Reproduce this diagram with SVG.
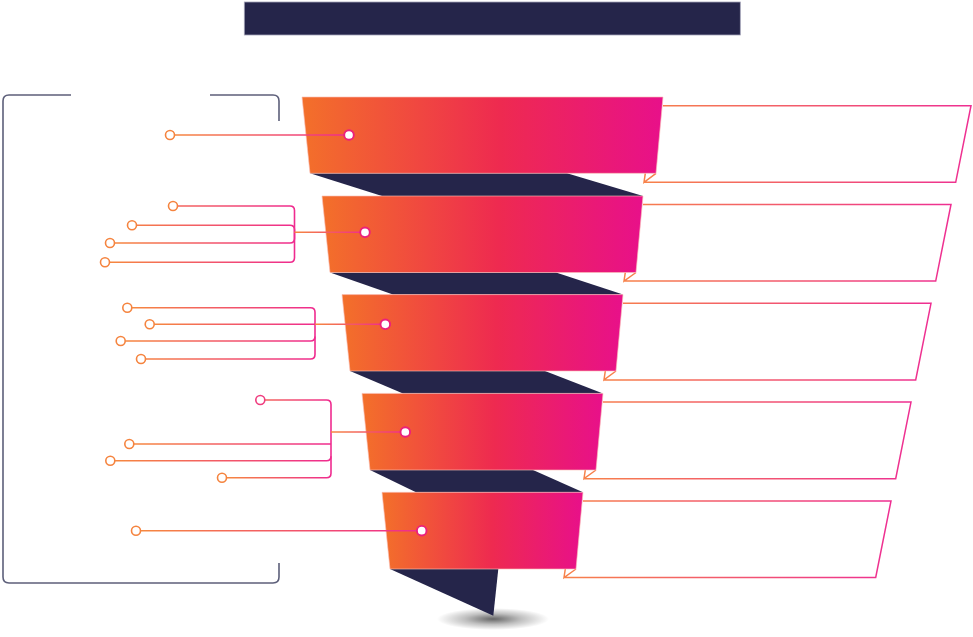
<svg xmlns="http://www.w3.org/2000/svg" width="973" height="637" viewBox="0 0 973 637">
<defs>
<style>
.band{stroke:#fbc0b8;stroke-width:0.9;stroke-opacity:0.7}
.back{fill:#25254a}
.panel{fill:none;stroke:url(#gPanel);stroke-width:1.5;stroke-linejoin:miter}
.wire{fill:none;stroke:url(#gWire);stroke-width:1.6}
.bracket{fill:none;stroke:#5d5f7a;stroke-width:1.6}
.pin{fill:#fff;stroke:#f5843f;stroke-width:1.6}
.dot{fill:#fff;stroke:#ec1f7c;stroke-width:1.9}
</style>
<linearGradient id="gBand" x1="0" y1="0" x2="1" y2="0">
<stop offset="0" stop-color="#f3702a"/>
<stop offset="0.55" stop-color="#ee2a50"/>
<stop offset="1" stop-color="#e8108a"/>
</linearGradient>
<linearGradient id="gPanel" x1="0" y1="0" x2="1" y2="0">
<stop offset="0" stop-color="#f7824a"/>
<stop offset="1" stop-color="#ee2f92"/>
</linearGradient>
<linearGradient id="gWire" x1="0" y1="0" x2="1" y2="0">
<stop offset="0" stop-color="#f6883f"/>
<stop offset="1" stop-color="#ef2b8f"/>
</linearGradient>
<linearGradient id="w1" gradientUnits="userSpaceOnUse" x1="174" y1="0" x2="349" y2="0">
<stop offset="0" stop-color="#f6883f"/><stop offset="1" stop-color="#ef2b8f"/>
</linearGradient>
<linearGradient id="w2" gradientUnits="userSpaceOnUse" x1="294.5" y1="0" x2="365" y2="0">
<stop offset="0" stop-color="#f6883f"/><stop offset="1" stop-color="#ef2b8f"/>
</linearGradient>
<linearGradient id="w3a" gradientUnits="userSpaceOnUse" x1="154" y1="0" x2="315" y2="0">
<stop offset="0" stop-color="#f6883f"/><stop offset="1" stop-color="#ef2b8f"/>
</linearGradient>
<linearGradient id="w3b" gradientUnits="userSpaceOnUse" x1="315" y1="0" x2="385" y2="0">
<stop offset="0" stop-color="#f6883f"/><stop offset="1" stop-color="#ef2b8f"/>
</linearGradient>
<linearGradient id="w4a" gradientUnits="userSpaceOnUse" x1="134" y1="0" x2="331" y2="0">
<stop offset="0" stop-color="#f6883f"/><stop offset="1" stop-color="#ef2b8f"/>
</linearGradient>
<linearGradient id="w4b" gradientUnits="userSpaceOnUse" x1="331" y1="0" x2="405" y2="0">
<stop offset="0" stop-color="#f6883f"/><stop offset="1" stop-color="#ef2b8f"/>
</linearGradient>
<linearGradient id="w5" gradientUnits="userSpaceOnUse" x1="140" y1="0" x2="421" y2="0">
<stop offset="0" stop-color="#f6883f"/><stop offset="1" stop-color="#ef2b8f"/>
</linearGradient>
<radialGradient id="gShadow" cx="0.5" cy="0.5" r="0.5">
<stop offset="0" stop-color="#000" stop-opacity="0.6"/>
<stop offset="0.5" stop-color="#000" stop-opacity="0.25"/>
<stop offset="1" stop-color="#000" stop-opacity="0"/>
</radialGradient>
</defs>

<rect width="973" height="637" fill="#fff"/>

<g id="title">
<rect x="244.3" y="2" width="496" height="33" fill="#25254a" stroke="#a4a4b8" stroke-width="0.8"/>
</g>

<g id="bracket">
<path class="bracket" d="M71,95 H9 Q3,95 3,101 V577 Q3,583 9,583 H273 Q279,583 279,577 V563"/>
<path class="bracket" d="M210,95 H273 Q279,95 279,101 V121"/>
</g>

<g id="panels">
<path class="panel" d="M656,173.3 L644,182.3 L645.3,173.3 M644,182.3 H955.7 L971,105.7 H663"/>
<path class="panel" d="M636,272.5 L624,281.1 L625.3,272.5 M624,281.1 H935.7 L951,204.5 H643"/>
<path class="panel" d="M616,371 L604,379.9 L605.3,371 M604,379.9 H915.7 L931,303.3 H623"/>
<path class="panel" d="M596,470 L584,478.7 L585.3,470 M584,478.7 H895.7 L911,402.1 H603"/>
<path class="panel" d="M576,569 L564,577.5 L565.3,569 M564,577.5 H875.7 L891,500.9 H583"/>
</g>

<g id="funnel-back">
<ellipse cx="493" cy="619" rx="56" ry="11" fill="url(#gShadow)"/>
<polygon class="back" points="310,173.3 567,173.3 643,196 382,196"/>
<polygon class="back" points="330,272.5 556,272.5 623,294.6 393,294.6"/>
<polygon class="back" points="350,371 545,371 603,393.4 403,393.4"/>
<polygon class="back" points="370,470 533,470 583,492.3 416,492.3"/>
<polygon class="back" points="390,569 498.3,569 493.3,615.7"/>
</g>

<g id="stage-1"><polygon class="band" fill="url(#gBand)" points="302,97 663,97 656,173.3 310,173.3"/></g>
<g id="stage-2"><polygon class="band" fill="url(#gBand)" points="322,196 643,196 636,272.5 330,272.5"/></g>
<g id="stage-3"><polygon class="band" fill="url(#gBand)" points="342,294.6 623,294.6 616,371 350,371"/></g>
<g id="stage-4"><polygon class="band" fill="url(#gBand)" points="362,393.4 603,393.4 596,470 370,470"/></g>
<g id="stage-5"><polygon class="band" fill="url(#gBand)" points="382,492.3 583,492.3 576,569 390,569"/></g>

<g id="connectors">
<!-- stage 1 -->
<path d="M174.5,135 H349" fill="none" stroke="url(#w1)" stroke-width="1.6"/>
<circle class="pin" cx="170" cy="135" r="4.5"/>
<circle class="dot" cx="349" cy="135" r="4.8"/>
<!-- stage 2 -->
<path class="wire" d="M177.5,206 H290 Q294.5,206 294.5,210.5 V257.8 Q294.5,262.3 290,262.3 H109.5"/>
<path class="wire" d="M136.5,225.3 H290 Q294.5,225.3 294.5,229.8 V238.5 Q294.5,243 290,243 H114.5"/>
<path d="M294.5,232.3 H365" fill="none" stroke="url(#w2)" stroke-width="1.6"/>
<circle class="pin" cx="173" cy="206" r="4.5"/>
<circle class="pin" cx="132" cy="225.3" r="4.5"/>
<circle class="pin" cx="110" cy="243" r="4.5"/>
<circle class="pin" cx="105" cy="262.3" r="4.5"/>
<circle class="dot" cx="365" cy="232.3" r="4.8"/>
<!-- stage 3 -->
<path class="wire" d="M131.8,307.7 H310.5 Q315,307.7 315,312.2 V354.5 Q315,359 310.5,359 H145.5"/>
<path class="wire" d="M125.2,341 H310.5 Q315,341 315,336.5"/>
<path d="M154.2,324.3 H315" fill="none" stroke="url(#w3a)" stroke-width="1.6"/>
<path d="M315,324.3 H385.3" fill="none" stroke="url(#w3b)" stroke-width="1.6"/>
<circle class="pin" cx="127.3" cy="307.7" r="4.5"/>
<circle class="pin" cx="149.7" cy="324.3" r="4.5"/>
<circle class="pin" cx="120.7" cy="341" r="4.5"/>
<circle class="pin" cx="141" cy="359" r="4.5"/>
<circle class="dot" cx="385.3" cy="324.3" r="4.8"/>
<!-- stage 4 -->
<path class="wire" d="M264.8,400 H326.5 Q331,400 331,404.5 V473.2 Q331,477.7 326.5,477.7 H226.5"/>
<path d="M133.8,444 H331" fill="none" stroke="url(#w4a)" stroke-width="1.6"/>
<path class="wire" d="M114.8,460.7 H326.5 Q331,460.7 331,456.2"/>
<path d="M331,432 H405.3" fill="none" stroke="url(#w4b)" stroke-width="1.6"/>
<circle class="pin" cx="260.3" cy="400" r="4.5" style="stroke:#ef3d7f"/>
<circle class="pin" cx="129.3" cy="444" r="4.5"/>
<circle class="pin" cx="110.3" cy="460.7" r="4.5"/>
<circle class="pin" cx="222" cy="477.7" r="4.5"/>
<circle class="dot" cx="405.3" cy="432" r="4.8"/>
<!-- stage 5 -->
<path d="M140.5,530.7 H421.7" fill="none" stroke="url(#w5)" stroke-width="1.6"/>
<circle class="pin" cx="136" cy="530.7" r="4.5"/>
<circle class="dot" cx="421.7" cy="530.7" r="4.8"/>
</g>
</svg>
